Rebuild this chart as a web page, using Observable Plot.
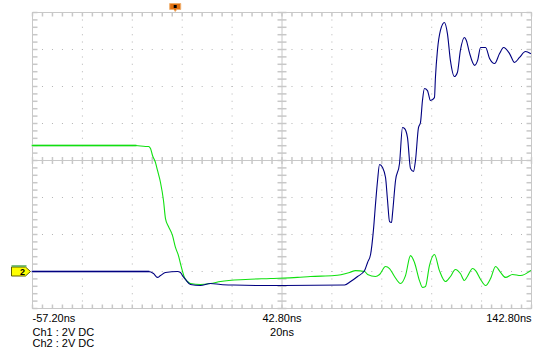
<!DOCTYPE html>
<html><head><meta charset="utf-8">
<script src="https://cdn.jsdelivr.net/npm/d3@7"></script>
<script src="https://cdn.jsdelivr.net/npm/@observablehq/plot@0.6"></script>
<style>
html,body{margin:0;padding:0;background:#fff;}
#chart svg{display:block;}
</style></head><body><div id="chart"></div>
<script>
// Time (ns) and voltage (V) (2 V/div, 20 ns/div)
const ch1Time = [-57.2,-15.9,-11.9,-10.7,-9.9,-9.1,-7.9,-7.1,-5.9,-4.7,-3.9,-2.7,-1.1,0.1,1.3,2.1,3.7,4.9,6.1,10.1,14.1,18.2,28.2,38.2,49.0,54.2,63.8,69.9,72.3,75.9,77.1,80.3,81.9,84.3,85.9,87.9,90.3,92.3,94.3,95.9,97.9,99.1,100.3,101.9,103.9,105.9,108.3,110.3,112.3,114.3,115.9,117.1,119.2,120.4,122.4,124.4,126.4,128.4,130.4,132.4,135.2,138.4,142.4];
const ch1Volt = [6.81,6.81,6.76,6.76,6.65,6.27,5.89,5.46,4.81,3.84,2.86,2.43,1.95,1.30,0.86,0.43,-0.32,-0.54,-0.65,-0.70,-0.65,-0.54,-0.43,-0.38,-0.32,-0.27,-0.22,-0.05,0.05,0.0,-0.16,-0.27,-0.16,0.27,0.16,-0.27,-0.65,-0.22,0.86,0.49,-0.49,-0.86,-0.81,0.32,0.92,0.05,-0.54,-0.27,0.11,-0.11,-0.49,-0.27,0.16,0.05,-0.43,-0.76,-0.38,0.27,-0.05,-0.32,-0.16,-0.22,0.05];
const ch2Time = [-57.2,-10.7,-8.7,-7.1,-5.9,-3.9,0.9,2.1,2.9,4.1,6.1,10.1,14.1,18.2,23.4,37.0,67.9,70.3,73.1,75.9,77.1,78.3,79.5,80.3,81.1,81.9,83.1,84.3,85.1,85.9,86.7,87.1,88.3,89.9,91.1,91.9,93.1,94.3,95.5,96.3,97.5,98.3,99.1,99.9,101.1,102.3,103.9,104.3,105.1,106.3,107.9,109.1,110.3,111.9,113.1,114.3,115.9,116.7,117.9,120.0,121.2,122.4,124.4,126.0,128.0,130.0,131.6,134.0,136.0,138.0,140.4,142.4];
const ch2Volt = [0,0,-0.11,-0.32,-0.22,-0.05,0,-0.05,-0.22,-0.43,-0.70,-0.76,-0.65,-0.70,-0.73,-0.76,-0.73,-0.54,-0.27,0.05,0.49,0.92,2.32,3.68,4.92,5.78,5.62,5.08,3.84,2.70,2.65,3.14,4.92,5.84,7.78,7.73,7.24,5.57,5.41,6.00,7.78,8.05,9.24,9.89,9.78,9.24,9.40,10.49,11.95,13.03,13.46,12.86,11.41,10.54,10.76,11.95,12.65,12.49,11.84,11.14,11.41,12.11,12.11,11.51,11.24,11.78,12.11,11.78,11.30,11.57,11.89,11.78];
const xTickLabels = [-57.2, 42.8, 142.8];
const channelLabels = ["Ch1 : 2V DC", "Ch2 : 2V DC"];
const timebaseLabel = "20ns";
const triggerTime = [0];
const ch2Ground = [0];
const ch2MarkerText = "2";

const xDomain = [-57.2, 142.8], yDomain = [-2, 14];
const xMajor = d3.range(11).map(i => -57.2 + 20 * i);
const yMajor = d3.range(9).map(i => -2 + 2 * i);
const xMinor = d3.range(51).map(i => -57.2 + 4 * i);
const yMinor = d3.range(41).map(i => -2 + 0.4 * i);
const xCenter = xMajor[5], yCenter = yMajor[4];

const gridPts = [];
xMajor.forEach((x, i) => { if (i > 0 && i < 10 && i !== 5) yMinor.forEach(y => gridPts.push({x, y})); });
yMajor.forEach((y, j) => { if (j > 0 && j < 8 && j !== 4) xMinor.forEach(x => gridPts.push({x, y})); });

const ch1 = ch1Time.map((t, i) => ({t, v: ch1Volt[i]}));
const ch2 = ch2Time.map((t, i) => ({t, v: ch2Volt[i]}));

const sym = f => ({draw(c) { f(c); }});
const pixel = sym(c => c.rect(-0.5, -0.5, 1, 1));
const tDown = sym(c => { c.moveTo(0, 0); c.lineTo(0, 4); });
const tUp = sym(c => { c.moveTo(0, 0); c.lineTo(0, -4); });
const tRight = sym(c => { c.moveTo(0, 0); c.lineTo(5, 0); });
const tLeft = sym(c => { c.moveTo(0, 0); c.lineTo(-5, 0); });
const crossV = sym(c => { c.moveTo(0, -3.5); c.lineTo(0, 3.5); });
const crossH = sym(c => { c.moveTo(-4.5, 0); c.lineTo(4.5, 0); });
const pent = sym(c => { c.moveTo(-21, -4.5); c.lineTo(-7, -4.5); c.lineTo(-2, 0); c.lineTo(-7, 4.5); c.lineTo(-21, 4.5); c.closePath(); });
const pentBar = sym(c => { c.moveTo(-21, -5.5); c.lineTo(-6, -5.5); });
const trig = sym(c => { c.moveTo(-5.5, -9); c.lineTo(5.5, -9); c.lineTo(5.5, -3); c.lineTo(1.5, -3); c.lineTo(0, -1); c.lineTo(-1.5, -3); c.lineTo(-5.5, -3); c.closePath(); });
const trigDot = sym(c => c.rect(-1.5, -7.5, 3, 3));

const grey = "#c8c8c8";
const font = "'Liberation Sans', Arial, sans-serif";

const chart = Plot.plot({
  width: 537, height: 351,
  marginLeft: 32, marginRight: 6, marginTop: 12, marginBottom: 43,
  x: {domain: xDomain, axis: null},
  y: {domain: yDomain, axis: null},
  style: {fontFamily: font, background: "#fff"},
  marks: [
    Plot.dot(gridPts, {x: "x", y: "y", symbol: pixel, fill: "#b4b4b4", stroke: null}),
    Plot.ruleX([xCenter], {x: d => d, stroke: grey}),
    Plot.ruleY([yCenter], {y: d => d, stroke: grey}),
    Plot.dot(xMinor, {x: d => d, y: yCenter, symbol: crossV, stroke: grey, fill: "none"}),
    Plot.dot(yMinor, {y: d => d, x: xCenter, symbol: crossH, stroke: grey, fill: "none"}),
    Plot.dot(xMinor, {x: d => d, frameAnchor: "top", symbol: tDown, stroke: grey, fill: "none"}),
    Plot.dot(xMinor, {x: d => d, frameAnchor: "bottom", symbol: tUp, stroke: grey, fill: "none"}),
    Plot.dot(yMinor, {y: d => d, frameAnchor: "left", symbol: tRight, stroke: grey, fill: "none"}),
    Plot.dot(yMinor, {y: d => d, frameAnchor: "right", symbol: tLeft, stroke: grey, fill: "none"}),
    Plot.frame({stroke: grey}),
    Plot.line(ch2.filter(d => d.t <= -10.7), {x: "t", y: "v", stroke: "#9a9ad0", strokeWidth: 2.5}),
    Plot.line(ch1.filter(d => d.t <= -15.9), {x: "t", y: "v", stroke: "#98ec98", strokeWidth: 2.5}),
    Plot.line(ch1, {x: "t", y: "v", stroke: "#10e010", strokeWidth: 1.1, curve: "monotone-x"}),
    Plot.line(ch2, {x: "t", y: "v", stroke: "#000080", strokeWidth: 1.1, curve: "monotone-x"}),
    // trigger marker
    Plot.dot(triggerTime, {x: d => d, frameAnchor: "top", symbol: trig, fill: "#e07010", stroke: "#f0b070", strokeWidth: 1}),
    Plot.dot(triggerTime, {x: d => d, frameAnchor: "top", symbol: trigDot, fill: "#000", stroke: null}),
    // channel 2 ground marker
    Plot.dot(ch2Ground, {y: d => d, frameAnchor: "left", symbol: pent, fill: "#ffff00", stroke: "#606000", strokeWidth: 1}),
    Plot.dot(ch2Ground, {y: d => d, frameAnchor: "left", symbol: pentBar, stroke: "#55aa55", strokeWidth: 1.5, fill: "none"}),
    Plot.text(ch2Ground, {y: d => d, frameAnchor: "left", dx: -12.5, dy: 0.5, text: () => ch2MarkerText, fontSize: 9, fontWeight: "bold", fill: "#000"}),
    // x tick labels
    ...xTickLabels.map((t, i) => Plot.text([t], {
      x: d => d, frameAnchor: "bottom", dy: 6, lineAnchor: "top",
      text: d => d.toFixed(2) + "ns",
      textAnchor: ["start", "middle", "end"][i], fontSize: 11, fill: "#000"
    })),
    Plot.text([channelLabels.join("\n")], {text: d => d, frameAnchor: "bottom-left", dy: 20, lineAnchor: "top", lineHeight: 1, textAnchor: "start", fontSize: 11, fill: "#000"}),
    Plot.text([timebaseLabel], {text: d => d, frameAnchor: "bottom", dy: 20, lineAnchor: "top", fontSize: 11, fill: "#000"})
  ]
});
document.getElementById("chart").appendChild(chart);
</script></body></html>
